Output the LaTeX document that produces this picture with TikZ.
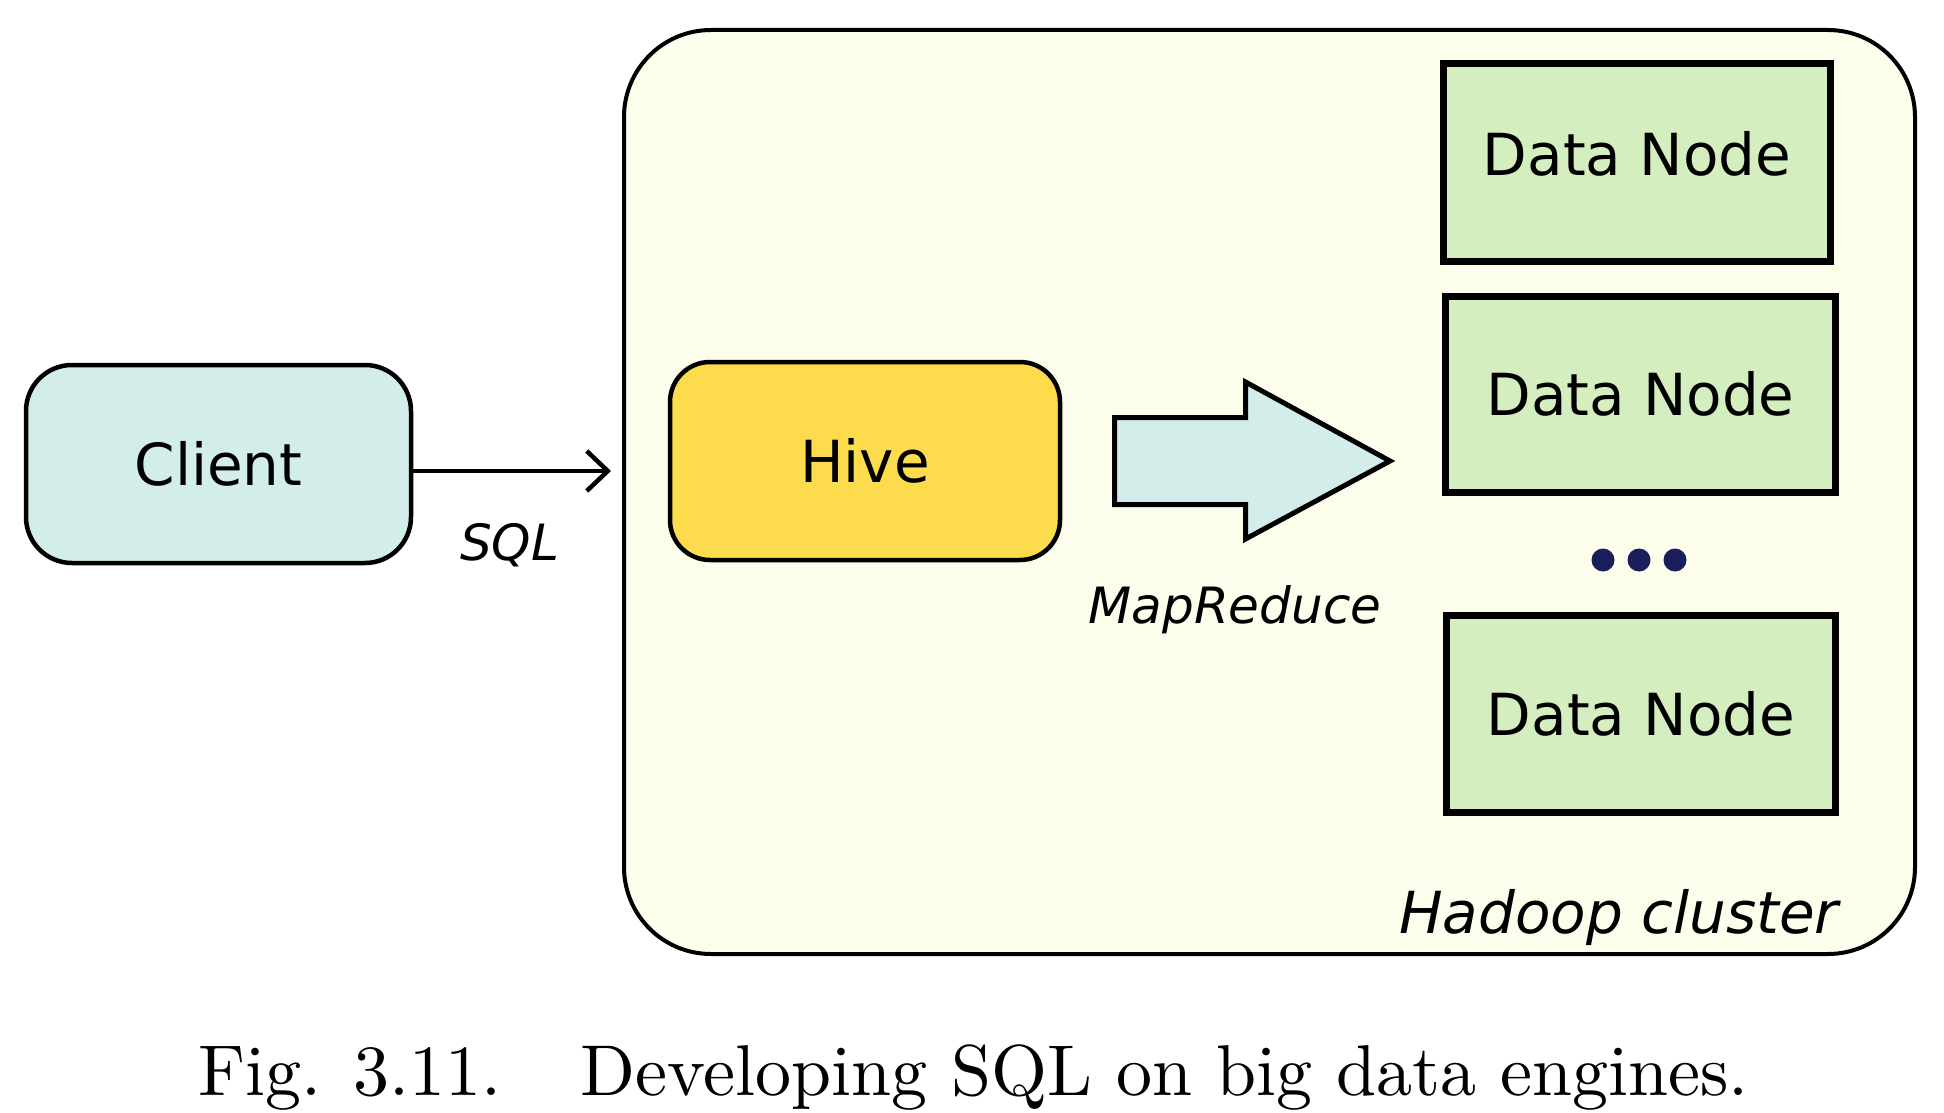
\documentclass[tikz,border=0pt]{standalone}
\usepackage{fontspec}
\newfontfamily\dejavu{DejaVu Sans}
\usetikzlibrary{arrows.meta}
\definecolor{clientfill}{HTML}{D3EEEA}
\definecolor{hivefill}{HTML}{FCDC4C}
\definecolor{hadoopfill}{HTML}{FDFDEC}
\definecolor{dnfill}{HTML}{D5EEC0}
\definecolor{dotcol}{HTML}{1A1F5C}
\begin{document}
\begin{tikzpicture}[x=1pt,y=-1pt,
  sanstext/.style={font=\dejavu\fontsize{58}{70}\selectfont, text height=42pt, text depth=0pt, inner sep=0pt},
  roundbox/.style={sanstext, draw, line width=4.5pt},
  datanode/.style={sanstext, draw, line width=7pt, fill=dnfill, minimum width=389pt, minimum height=197pt},
  ilab/.style={font=\dejavu\itshape\fontsize{50}{60}\selectfont, inner sep=0pt, anchor=base},
  biglab/.style={font=\dejavu\itshape\fontsize{58}{70}\selectfont, inner sep=0pt, anchor=base}]
\useasboundingbox (0,0) rectangle (1944,1113);
\fill[white] (0,0) rectangle (1944,1113);
% cluster
\node[draw, line width=4pt, fill=hadoopfill, rounded corners=87pt, minimum width=1291pt, minimum height=924pt, inner sep=0pt] (hadoop) at (1269.5,492) {};
\node[biglab] (hlabel) at (1619,933) {Hadoop cluster};
% client and hive
\node[roundbox, fill=clientfill, rounded corners=46pt, minimum width=385pt, minimum height=198pt] (client) at (218.5,464) {Client};
\node[roundbox, fill=hivefill, rounded corners=40pt, minimum width=390pt, minimum height=198pt] (hive) at (865,461) {Hive};
% data nodes
\node[datanode, minimum width=387pt, minimum height=198pt, text depth=16pt] (dn1) at (1637,162.5) {Data Node};
\node[datanode, minimum width=390pt, minimum height=196pt] (dn2) at (1640.5,394.5) {Data Node};
\node[datanode] (dn3) at (1641,714) {Data Node};
% dots
\fill[dotcol] (1603,560) circle[radius=11.5pt];
\fill[dotcol] (1639,560) circle[radius=11.5pt];
\fill[dotcol] (1675,560) circle[radius=11.5pt];
% SQL arrow
\coordinate (s0) at ([yshift=-7pt]client.east);
\coordinate (s1) at ([xshift=-11pt]s0 -| hadoop.west);
\draw[line width=4.5pt, -{Straight Barb[length=21pt,width=40pt]}] (s0) -- (s1);
\node[ilab] (sql) at (509.5,560) {SQL};
% MapReduce block arrow
\draw[line width=5pt, fill=clientfill, line join=miter]
  (1114.5,417.5) -- (1245.5,417.5) -- (1245.5,382) -- (1390,461) -- (1245.5,539) -- (1245.5,504.5) -- (1114.5,504.5) -- cycle;
\node[ilab] (mr) at (1235,623) {MapReduce};
% caption
\node[anchor=base west, inner sep=0pt] (caption) at (198,1095) {\scalebox{7.2}{\fontsize{10}{12}\selectfont Fig. 3.11.\hspace{1.1em}Developing SQL on big data engines.}};
\end{tikzpicture}
\end{document}
